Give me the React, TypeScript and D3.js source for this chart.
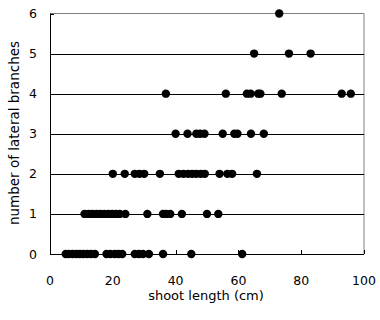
import React from "react";
import * as d3 from "d3";

const row0 = [5, 6, 7.2, 8.4, 9.5, 10.6, 11.8, 13, 14.3, 18, 19.2, 20.6, 21.8, 23, 27, 28.3, 29.6, 31.5, 36, 45, 61.2];
const row1 = [11, 12.3, 13.5, 14.8, 16, 17.3, 18.6, 19.8, 21, 22.2, 24, 31, 36, 37, 38.3, 42, 50, 53.6];
const row2 = [20, 23.8, 27, 28.5, 30, 35, 41, 42.5, 44, 45.3, 46.6, 48, 49.3, 54, 56.5, 58, 65.9];
const row3 = [40, 43.8, 46.6, 47.8, 49.2, 55, 58.7, 59.7, 64, 68.1];
const row4 = [36.9, 56, 62.7, 63.9, 66.3, 67, 73.8, 92.9, 95.8];
const row5 = [65, 76.1, 83];
const row6 = [73];
const rows = [row0, row1, row2, row3, row4, row5, row6];
const xTicks = [0, 20, 40, 60, 80, 100];
const yTicks = [0, 1, 2, 3, 4, 5, 6];

export default function App() {
  const x = d3.scaleLinear().domain([0, 100]).range([50, 364]);
  const y = d3.scaleLinear().domain([0, 6]).range([254, 13.5]);
  const font = "'DejaVu Sans', 'Noto Sans CJK JP', sans-serif";
  const points: { v: number; n: number }[] = [];
  rows.forEach((r, n) => r.forEach((v) => points.push({ v, n })));
  return (
    <svg width={380} height={320} style={{ position: "absolute", left: 0, top: 0 }}>
      <rect x={0} y={0} width={380} height={320} fill="#fff" />
      <line x1={x(0)} x2={x(100)} y1={y(6)} y2={y(6)} stroke="#808080" />
      <line x1={x(100)} x2={x(100)} y1={y(6)} y2={y(0)} stroke="#808080" />
      {yTicks.filter((t) => t > 0 && t < 6).map((t) => (
        <line key={t} x1={x(0)} x2={x(100)} y1={Math.round(y(t)) + 0.5} y2={Math.round(y(t)) + 0.5} stroke="#000" />
      ))}
      <line x1={x(0) + 0.5} x2={x(0) + 0.5} y1={y(6)} y2={y(0)} stroke="#000" />
      <line x1={x(0)} x2={x(100)} y1={Math.round(y(0)) + 0.5} y2={Math.round(y(0)) + 0.5} stroke="#000" />
      {xTicks.map((t) => (
        <line key={t} x1={Math.round(x(t)) + 0.5} x2={Math.round(x(t)) + 0.5} y1={y(0) - 4} y2={y(0)} stroke="#000" />
      ))}
      {yTicks.map((t) => (
        <line key={t} x1={x(0)} x2={x(0) + 4} y1={Math.round(y(t)) + 0.5} y2={Math.round(y(t)) + 0.5} stroke="#000" />
      ))}
      {points.map((p, i) => (
        <circle key={i} cx={x(p.v)} cy={y(p.n)} r={4.2} fill="#000" />
      ))}
      {xTicks.map((t) => (
        <text key={t} x={x(t)} y={285} fontSize={12.5} fontFamily={font} textAnchor="middle">{t}</text>
      ))}
      {yTicks.map((t) => (
        <text key={t} x={37} y={y(t) + 4.5} fontSize={12.5} fontFamily={font} textAnchor="end">{t}</text>
      ))}
      <text x={206} y={300} fontSize={13} fontFamily={font} textAnchor="middle">shoot length (cm)</text>
      <text transform="translate(19,133) rotate(-90)" fontSize={13.5} fontFamily={font} textAnchor="middle">number of lateral branches</text>
    </svg>
  );
}
